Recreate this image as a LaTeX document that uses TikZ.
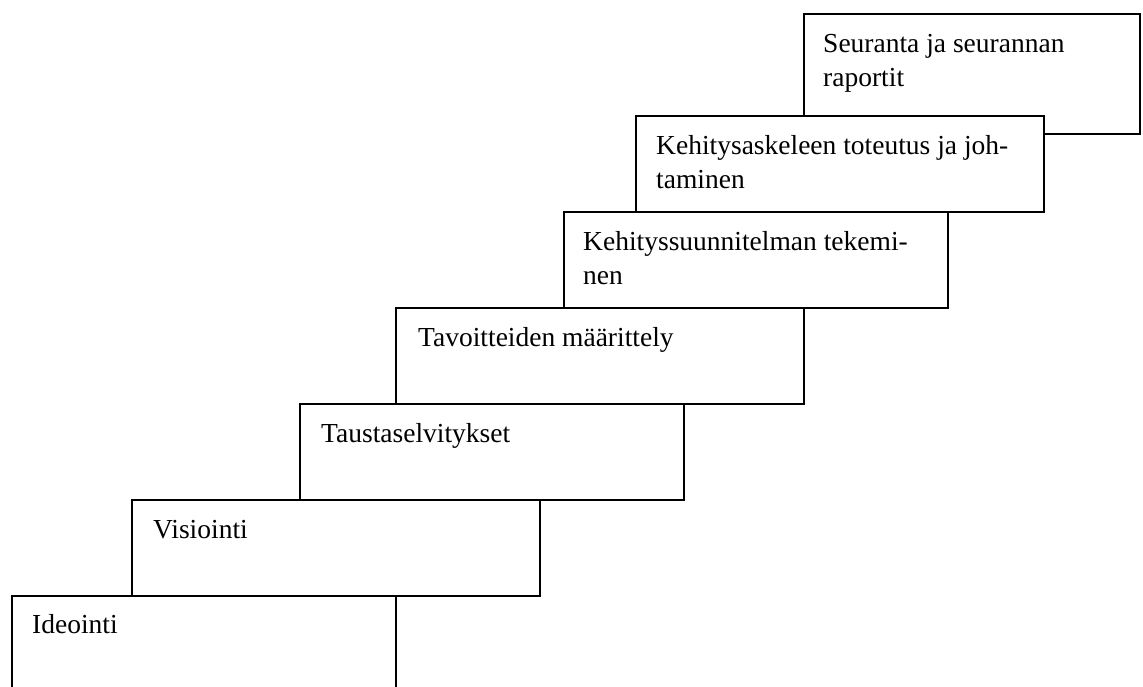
\documentclass[tikz,border=0pt]{standalone}
\usepackage{fontspec}
\setmainfont{Liberation Serif}
\newcommand{\stacklines}[1]{\begin{tabular}[t]{@{}l@{}}#1\end{tabular}}
\begin{document}
\begin{tikzpicture}[x=1pt,y=-1pt,
  stepbox/.style={draw=black, fill=white, line width=1.5pt, rectangle, anchor=north west, inner sep=0pt},
  steplabel/.style={anchor=base west, inner sep=0pt, font=\fontsize{27.5}{34}\selectfont}]
\path[use as bounding box] (0,0) rectangle (1143,686);
\clip (0,0) rectangle (1143,686);
% boxes from top to bottom, lower boxes drawn over upper ones
\node[stepbox, minimum width=336pt, minimum height=120pt] (b7) at (803,13) {};
\node[steplabel] (t7) at (823,52) {\stacklines{Seuranta ja seurannan\\raportit}};
\node[stepbox, minimum width=408pt, minimum height=96pt] (b6) at (635,115) {};
\node[steplabel] (t6) at (656,154) {\stacklines{Kehitysaskeleen toteutus ja joh-\\taminen}};
\node[stepbox, minimum width=384pt, minimum height=96pt] (b5) at (563,211) {};
\node[steplabel] (t5) at (583,250) {\stacklines{Kehityssuunnitelman tekemi-\\nen}};
\node[stepbox, minimum width=408pt, minimum height=96pt] (b4) at (395,307) {};
\node[steplabel] (t4) at (418,346) {Tavoitteiden määrittely};
\node[stepbox, minimum width=384pt, minimum height=96pt] (b3) at (299,403) {};
\node[steplabel] (t3) at (321,442) {Taustaselvitykset};
\node[stepbox, minimum width=408pt, minimum height=96pt] (b2) at (131,499) {};
\node[steplabel] (t2) at (153,538) {Visiointi};
\node[stepbox, minimum width=384pt, minimum height=110pt] (b1) at (11,595) {};
\node[steplabel] (t1) at (32,633) {Ideointi};
\end{tikzpicture}
\end{document}
